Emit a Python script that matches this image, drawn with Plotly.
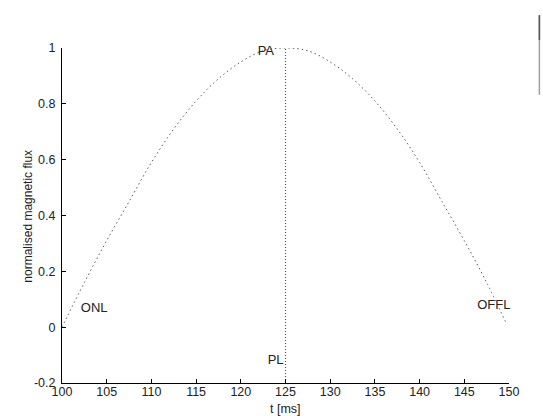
import plotly.graph_objects as go

# values
t_ms = [100, 102.5, 105, 107.5, 110, 112.5, 115, 117.5, 120, 122.5, 125,
        127.5, 130, 132.5, 135, 137.5, 140, 142.5, 145, 147.5, 149.6]
flux = [0.0, 0.16, 0.31, 0.45, 0.59, 0.71, 0.81, 0.89, 0.95, 0.99, 1.0,
        0.99, 0.95, 0.89, 0.81, 0.71, 0.59, 0.45, 0.31, 0.16, 0.02]
peak_t = 125
labels = ["ONL", "PA", "PL", "OFFL"]
label_t = [103.6, 122.8, 123.9, 148.3]
label_y = [0.065, 0.985, -0.122, 0.075]
x_ticks = [100, 105, 110, 115, 120, 125, 130, 135, 140, 145, 150]
y_ticks = [-0.2, 0, 0.2, 0.4, 0.6, 0.8, 1]
y_tick_text = ["-0.2", "0", "0.2", "0.4", "0.6", "0.8", "1"]
x_title = "t [ms]"
y_title = "normalised magnetic flux"

FONT = "Liberation Sans, Arial, sans-serif"

fig = go.Figure()
fig.add_trace(go.Scatter(x=t_ms, y=flux, mode="lines",
                         line=dict(color="#5a5a5a", width=1, dash="1.5px,3px", shape="spline"),
                         showlegend=False, hoverinfo="skip"))
fig.add_trace(go.Scatter(x=[peak_t, peak_t], y=[-0.2, 1.0], mode="lines",
                         line=dict(color="#555555", width=1.2, dash="1px,2px"),
                         showlegend=False, hoverinfo="skip"))
fig.add_trace(go.Scatter(x=label_t, y=label_y, mode="text", text=labels,
                         textfont=dict(family=FONT, size=13, color="#222222"),
                         textposition="middle center", cliponaxis=False,
                         showlegend=False, hoverinfo="skip"))

# scan artifact at the top right edge
fig.add_shape(type="line", xref="paper", yref="paper",
              x0=1.068, x1=1.068, y0=0.86, y1=1.098,
              line=dict(color="#a0a0a0", width=1.5))
fig.add_shape(type="line", xref="paper", yref="paper",
              x0=1.068, x1=1.068, y0=1.024, y1=1.098,
              line=dict(color="#555555", width=1.5))

# axis titles
fig.add_annotation(text=x_title, xref="paper", yref="paper", x=0.5, y=-0.079,
                   xanchor="center", yanchor="middle", showarrow=False,
                   font=dict(family=FONT, size=12.5, color="#222222"))
fig.add_annotation(text=y_title, xref="paper", yref="paper", x=-0.078, y=0.497,
                   xanchor="center", yanchor="middle", showarrow=False, textangle=-90,
                   font=dict(family=FONT, size=12, color="#222222"))

axis_font = dict(family=FONT, size=12.5, color="#222222")
fig.update_layout(
    width=543, height=416,
    margin=dict(l=62, r=33.5, t=48, b=32.5),
    paper_bgcolor="white", plot_bgcolor="white",
    xaxis=dict(range=[100, 150], tickvals=x_ticks, ticks="inside", ticklen=4,
               tickcolor="black", showline=True, linecolor="black", linewidth=1,
               showgrid=False, zeroline=False, tickfont=axis_font,
               ticklabelstandoff=-3, automargin=False),
    yaxis=dict(range=[-0.2, 1.0], tickvals=y_ticks, ticktext=y_tick_text,
               ticks="inside", ticklen=4, tickcolor="black",
               showline=True, linecolor="black", linewidth=1,
               showgrid=False, zeroline=False, tickfont=axis_font,
               ticklabelstandoff=3, automargin=False),
)

fig.write_html("out.html")
